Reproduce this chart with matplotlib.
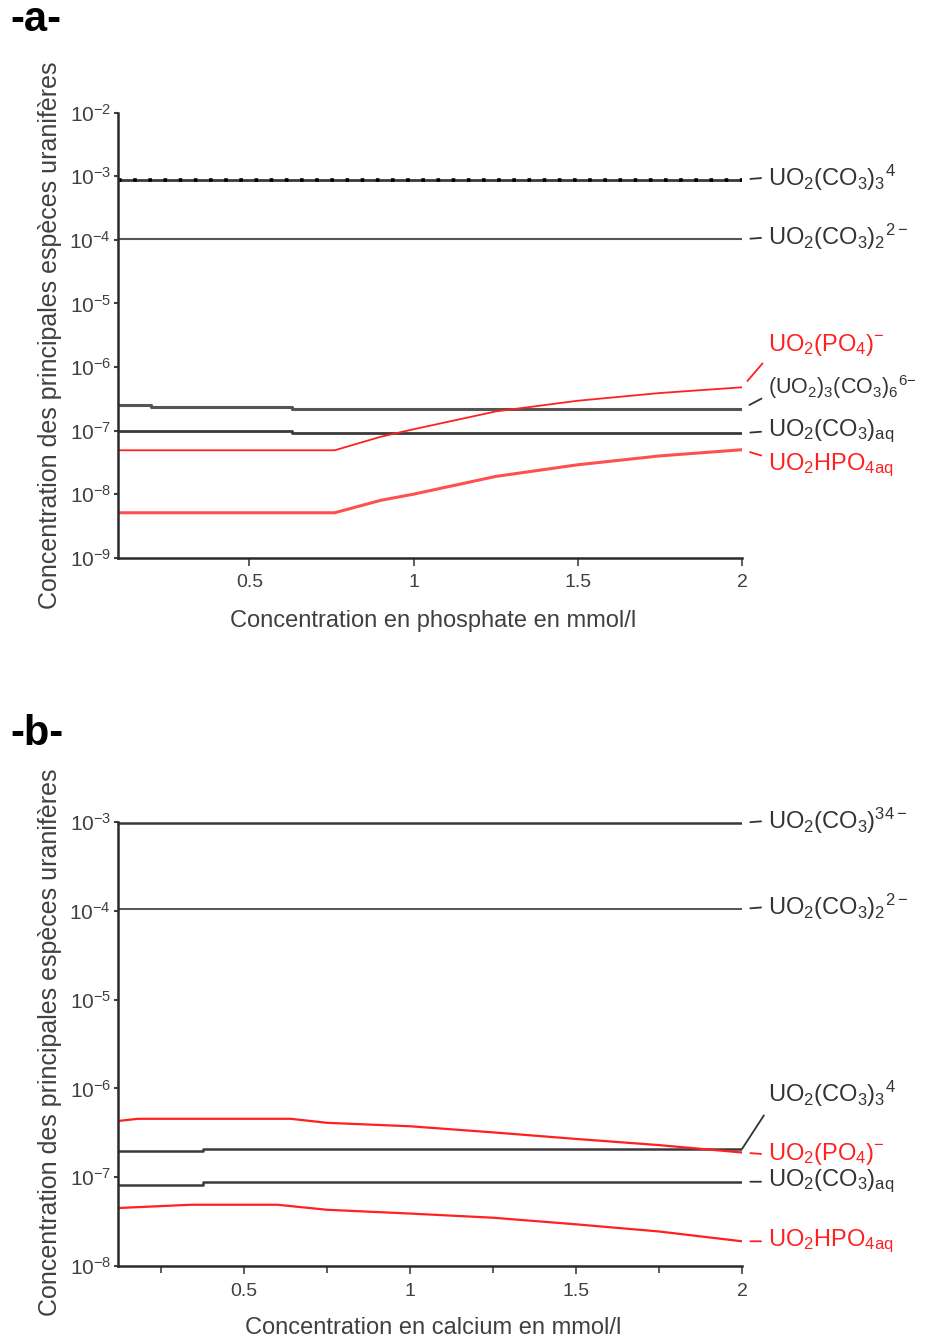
import matplotlib
matplotlib.use('Agg')
import math
import matplotlib.pyplot as plt
from matplotlib.ticker import FixedLocator, FuncFormatter, MultipleLocator, NullLocator

plt.rcParams['font.family'] = ['Liberation Sans', 'DejaVu Sans']
plt.rcParams['mathtext.fontset'] = 'custom'
plt.rcParams['mathtext.rm'] = 'Liberation Sans'

# ---- panel a : phosphate ----
a_carb3_x = [0.1, 2.0]
a_carb3_y = [8.9e-4, 8.9e-4]
a_carb2_x = [0.1, 2.0]
a_carb2_y = [1.02e-4, 1.02e-4]
a_tri_x = [0.1, 0.2, 0.63, 2.0]
a_tri_y = [2.55e-7, 2.32e-7, 2.2e-7, 2.2e-7]
a_aq_x = [0.1, 0.63, 2.0]
a_aq_y = [9.7e-8, 9.1e-8, 9.1e-8]
a_po4_x = [0.1, 0.76, 0.9, 1.0, 1.25, 1.5, 1.75, 2.0]
a_po4_y = [4.9e-8, 4.9e-8, 8.0e-8, 1.05e-7, 2.0e-7, 2.95e-7, 3.9e-7, 4.8e-7]
a_hpo4_x = [0.1, 0.76, 0.9, 1.0, 1.25, 1.5, 1.75, 2.0]
a_hpo4_y = [5.1e-9, 5.1e-9, 8.0e-9, 1.0e-8, 1.9e-8, 2.9e-8, 4.0e-8, 5.0e-8]

# ---- panel b : calcium ----
b_carb3_x = [0.12, 2.0]
b_carb3_y = [9.8e-4, 9.8e-4]
b_carb2_x = [0.12, 2.0]
b_carb2_y = [1.05e-4, 1.05e-4]
b_tri_x = [0.12, 0.375, 2.0]
b_tri_y = [1.95e-7, 2.08e-7, 2.08e-7]
b_aq_x = [0.12, 0.375, 2.0]
b_aq_y = [8.1e-8, 8.9e-8, 8.9e-8]
b_po4_x = [0.12, 0.18, 0.64, 0.75, 1.0, 1.25, 1.5, 1.75, 2.0]
b_po4_y = [4.3e-7, 4.55e-7, 4.55e-7, 4.1e-7, 3.75e-7, 3.2e-7, 2.7e-7, 2.3e-7, 1.9e-7]
b_hpo4_x = [0.12, 0.34, 0.6, 0.75, 1.0, 1.25, 1.5, 1.75, 2.0]
b_hpo4_y = [4.5e-8, 4.9e-8, 4.9e-8, 4.3e-8, 3.9e-8, 3.5e-8, 2.95e-8, 2.45e-8, 1.9e-8]

a_decades = [-9, -8, -7, -6, -5, -4, -3, -2]
b_decades = [-8, -7, -6, -5, -4, -3]
x_ticks = [0.5, 1, 1.5, 2]
x_ticklabels = ['0.5', '1', '1.5', '2']

ylabel = 'Concentration des principales espèces uranifères'

DARK = '#3a3a3a'
RED = '#ff2020'
GREY = '#404040'

fig = plt.figure(figsize=(9.26, 13.41), dpi=100)
ax_a = fig.add_axes([0.1274, 0.5841, 0.6739, 0.3318])
ax_b = fig.add_axes([0.1274, 0.0559, 0.6739, 0.3311])


def style(ax, decades, xmin):
    ax.set_yscale('log')
    ax.set_ylim(10.0 ** decades[0], 10.0 ** decades[-1])
    ax.set_xlim(xmin, 2)
    ax.yaxis.set_major_locator(FixedLocator([10.0 ** d for d in decades]))
    ax.yaxis.set_minor_locator(NullLocator())
    ax.yaxis.set_major_formatter(FuncFormatter(
        lambda v, p: r'$\mathregular{10^{%d}}$' % round(math.log10(v))))
    ax.set_xticks(x_ticks)
    ax.set_xticklabels(x_ticklabels)
    for s in ['top', 'right']:
        ax.spines[s].set_visible(False)
    for s in ['left', 'bottom']:
        ax.spines[s].set_color('#2a2a2a')
        ax.spines[s].set_linewidth(1.8)
    ax.tick_params(axis='y', direction='out', length=3, width=1.5, pad=2,
                   labelsize=15, colors=GREY)
    ax.tick_params(axis='x', direction='out', length=6, width=1.2, pad=6,
                   labelsize=14, colors=GREY)


style(ax_a, a_decades, 0.1)
style(ax_b, b_decades, 0.12)
ax_b.xaxis.set_minor_locator(MultipleLocator(0.25))
ax_b.tick_params(axis='x', which='minor', direction='out', length=5, width=1.2, colors=GREY)

# panel a curves
ax_a.plot(a_carb3_x, a_carb3_y, color=DARK, lw=2)
ax_a.plot(a_carb3_x, a_carb3_y, color='black', lw=2.6, linestyle=(0, (1, 3.2)))
ax_a.plot(a_carb2_x, a_carb2_y, color='#555555', lw=1.5)
ax_a.plot(a_tri_x, a_tri_y, color='#555555', lw=2.2, drawstyle='steps-post')
ax_a.plot(a_aq_x, a_aq_y, color=DARK, lw=2, drawstyle='steps-post')
ax_a.plot(a_po4_x, a_po4_y, color=RED, lw=1.3)
ax_a.plot(a_hpo4_x, a_hpo4_y, color='#ff5050', lw=2.2)

# panel b curves
ax_b.plot(b_carb3_x, b_carb3_y, color=DARK, lw=1.8)
ax_b.plot(b_carb2_x, b_carb2_y, color='#555555', lw=1.4)
ax_b.plot(b_tri_x, b_tri_y, color=DARK, lw=1.8, drawstyle='steps-post')
ax_b.plot(b_aq_x, b_aq_y, color=DARK, lw=1.8, drawstyle='steps-post')
ax_b.plot(b_po4_x, b_po4_y, color=RED, lw=1.6)
ax_b.plot(b_hpo4_x, b_hpo4_y, color=RED, lw=1.6)


def tag(ax, yval, text, dy=0, color='#333333', relpos=(0, 0.5), shrinkB=6, size=17):
    ax.annotate(text, xy=(2.0, yval), xycoords='data',
                xytext=(26, dy), textcoords='offset pixels',
                ha='left', va='center', fontsize=size, color=color,
                annotation_clip=False,
                arrowprops=dict(arrowstyle='-', color=color, lw=1.3,
                                shrinkA=3, shrinkB=shrinkB, relpos=relpos))


tag(ax_a, a_carb3_y[-1], r'$\mathregular{UO_2(CO_3)_3{}^{4}}$', dy=2)
tag(ax_a, a_carb2_y[-1], r'$\mathregular{UO_2(CO_3)_2{}^{2-}}$', dy=2)
tag(ax_a, a_po4_y[-1], r'$\mathregular{UO_2(PO_4)^{-}}$', dy=42, color=RED, relpos=(0, 0.05))
tag(ax_a, a_tri_y[-1], r'$\mathregular{(UO_2)_3(CO_3)_6{}^{6\!-}}$', dy=22, relpos=(0, 0.2),
    size=15.5)
tag(ax_a, a_aq_y[-1], r'$\mathregular{UO_2(CO_3)_{aq}}$', dy=2)
tag(ax_a, a_hpo4_y[-1], r'$\mathregular{UO_2HPO_{4aq}}$', dy=-16, color=RED, relpos=(0, 0.8))

tag(ax_b, b_carb3_y[-1], r'$\mathregular{UO_2(CO_3)^{34-}}$', dy=2)
tag(ax_b, b_carb2_y[-1], r'$\mathregular{UO_2(CO_3)_2{}^{2-}}$', dy=2)
tag(ax_b, b_tri_y[-1], r'$\mathregular{UO_2(CO_3)_3{}^{4}}$', dy=55, relpos=(0, 0.0), shrinkB=0)
tag(ax_b, b_po4_y[-1], r'$\mathregular{UO_2(PO_4)^{-}}$', dy=-2, color=RED)
tag(ax_b, b_aq_y[-1], r'$\mathregular{UO_2(CO_3)_{aq}}$', dy=0)
tag(ax_b, b_hpo4_y[-1], r'$\mathregular{UO_2HPO_{4aq}}$', dy=0, color=RED)

# axis titles
fig.text(0.0540, 0.750, ylabel, rotation=90, ha='center', va='center', fontsize=18, color=GREY)
fig.text(0.0540, 0.223, ylabel, rotation=90, ha='center', va='center', fontsize=18, color=GREY)
fig.text(0.4676, 0.537, 'Concentration en phosphate en mmol/l', ha='center', va='center',
         fontsize=17, color=GREY)
fig.text(0.4676, 0.0095, 'Concentration en calcium en mmol/l', ha='center', va='center',
         fontsize=17, color=GREY)

fig.text(0.011, 1 - 31 / 1341, '-a-', fontsize=30, fontweight='bold', ha='left', va='baseline')
fig.text(0.011, 1 - 745 / 1341, '-b-', fontsize=30, fontweight='bold', ha='left', va='baseline')

fig.savefig('out.png', dpi=100)
